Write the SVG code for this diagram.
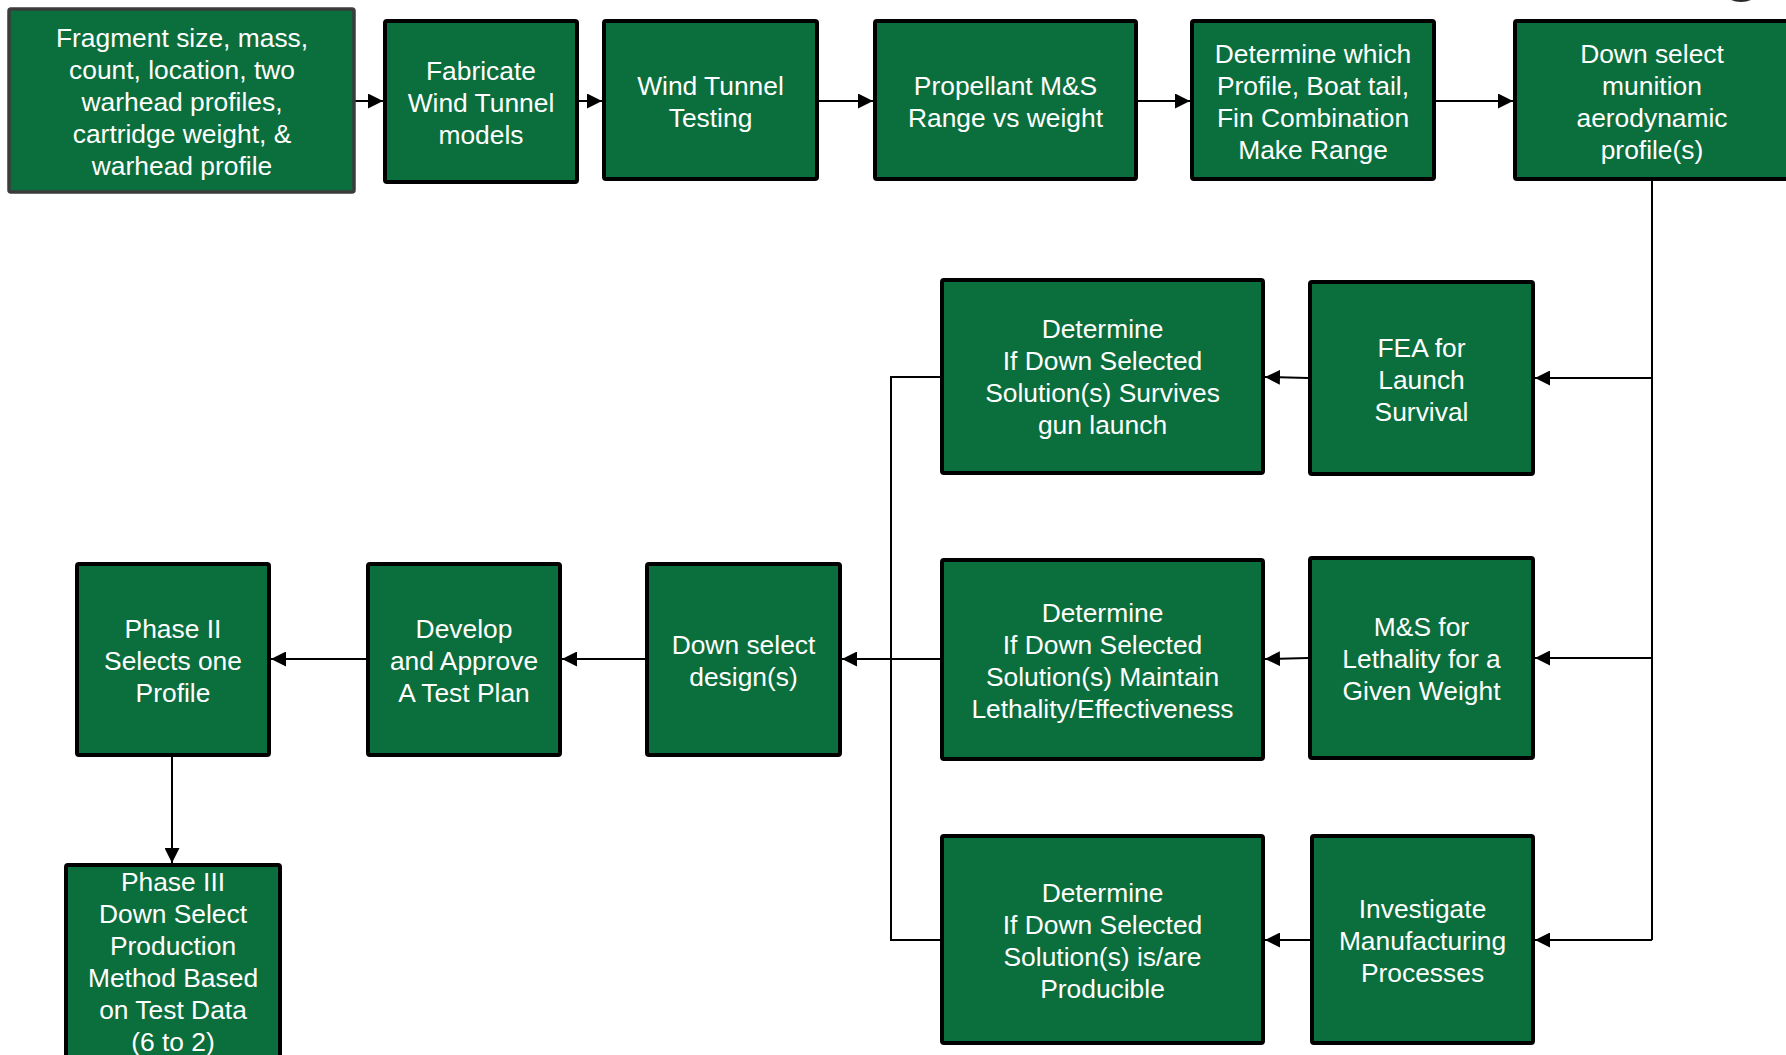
<svg xmlns="http://www.w3.org/2000/svg" width="1786" height="1055" viewBox="0 0 1786 1055">
<defs>
<style>
.box{fill:#0b6e3d;stroke:#000;stroke-width:4}
.box1{fill:#0b6e3d;stroke:#3c3c3c;stroke-width:3.5}
.t{fill:#fff;font-family:"Liberation Sans",Arial,sans-serif;font-size:26.4px;text-anchor:middle}
.c{fill:none;stroke:#000;stroke-width:2}
.a{marker-end:url(#ah)}
</style>
<marker id="ah" markerUnits="userSpaceOnUse" markerWidth="15" markerHeight="15" refX="15" refY="7.5" orient="auto">
<path d="M0,0 L15,7.5 L0,15 z" fill="#000"/>
</marker>
</defs>
<rect width="1786" height="1055" fill="#fff"/>
<ellipse cx="1741" cy="-6" rx="15" ry="8" fill="#2a2a2a"/>
<g id="connectors">
<path class="c a" d="M354,101 H383"/>
<path class="c a" d="M577,101 H602"/>
<path class="c a" d="M817,101 H873"/>
<path class="c a" d="M1136,101 H1190"/>
<path class="c a" d="M1434,101 H1513"/>
<path class="c" d="M1652,179 V940"/>
<path class="c a" d="M1652,378 H1535"/>
<path class="c a" d="M1652,658 H1535"/>
<path class="c a" d="M1652,940 H1535"/>
<path class="c a" d="M1308,378 L1265,377"/>
<path class="c a" d="M1308,658 L1265,659"/>
<path class="c a" d="M1310,940 H1265"/>
<path class="c" d="M940,377 H891 V940 H940"/>
<path class="c a" d="M940,659 H842"/>
<path class="c a" d="M645,659 H562"/>
<path class="c a" d="M366,659 H271"/>
<path class="c a" d="M172,757 V863"/>
</g>
<g id="n1"><rect class="box1" x="9" y="9" width="345" height="183" rx="2"/>
<text class="t"><tspan x="182" y="47">Fragment size, mass,</tspan><tspan x="182" y="79">count, location, two</tspan><tspan x="182" y="111">warhead profiles,</tspan><tspan x="182" y="143">cartridge weight, &amp;</tspan><tspan x="182" y="175">warhead profile</tspan></text></g>
<g id="n2"><rect class="box" x="385" y="21" width="192" height="161" rx="2"/>
<text class="t"><tspan x="481" y="80">Fabricate</tspan><tspan x="481" y="112">Wind Tunnel</tspan><tspan x="481" y="144">models</tspan></text></g>
<g id="n3"><rect class="box" x="604" y="21" width="213" height="158" rx="2"/>
<text class="t"><tspan x="710.5" y="95">Wind Tunnel</tspan><tspan x="710.5" y="127">Testing</tspan></text></g>
<g id="n4"><rect class="box" x="875" y="21" width="261" height="158" rx="2"/>
<text class="t"><tspan x="1005.5" y="95">Propellant M&amp;S</tspan><tspan x="1005.5" y="127">Range vs weight</tspan></text></g>
<g id="n5"><rect class="box" x="1192" y="21" width="242" height="158" rx="2"/>
<text class="t"><tspan x="1313" y="63">Determine which</tspan><tspan x="1313" y="95">Profile, Boat tail,</tspan><tspan x="1313" y="127">Fin Combination</tspan><tspan x="1313" y="159">Make Range</tspan></text></g>
<g id="n6"><rect class="box" x="1515" y="21" width="277" height="158" rx="2"/>
<text class="t"><tspan x="1652" y="63">Down select</tspan><tspan x="1652" y="95">munition</tspan><tspan x="1652" y="127">aerodynamic</tspan><tspan x="1652" y="159">profile(s)</tspan></text></g>
<g id="n7"><rect class="box" x="1310" y="282" width="223" height="192" rx="2"/>
<text class="t"><tspan x="1421.5" y="357">FEA for</tspan><tspan x="1421.5" y="389">Launch</tspan><tspan x="1421.5" y="421">Survival</tspan></text></g>
<g id="n8"><rect class="box" x="942" y="280" width="321" height="193" rx="2"/>
<text class="t"><tspan x="1102.5" y="338">Determine</tspan><tspan x="1102.5" y="370">If Down Selected</tspan><tspan x="1102.5" y="402">Solution(s) Survives</tspan><tspan x="1102.5" y="434">gun launch</tspan></text></g>
<g id="n9"><rect class="box" x="1310" y="558" width="223" height="200" rx="2"/>
<text class="t"><tspan x="1421.5" y="636">M&amp;S for</tspan><tspan x="1421.5" y="668">Lethality for a</tspan><tspan x="1421.5" y="700">Given Weight</tspan></text></g>
<g id="n10"><rect class="box" x="942" y="560" width="321" height="199" rx="2"/>
<text class="t"><tspan x="1102.5" y="622">Determine</tspan><tspan x="1102.5" y="654">If Down Selected</tspan><tspan x="1102.5" y="686">Solution(s) Maintain</tspan><tspan x="1102.5" y="718">Lethality/Effectiveness</tspan></text></g>
<g id="n11"><rect class="box" x="1312" y="836" width="221" height="207" rx="2"/>
<text class="t"><tspan x="1422.5" y="918">Investigate</tspan><tspan x="1422.5" y="950">Manufacturing</tspan><tspan x="1422.5" y="982">Processes</tspan></text></g>
<g id="n12"><rect class="box" x="942" y="836" width="321" height="207" rx="2"/>
<text class="t"><tspan x="1102.5" y="902">Determine</tspan><tspan x="1102.5" y="934">If Down Selected</tspan><tspan x="1102.5" y="966">Solution(s) is/are</tspan><tspan x="1102.5" y="998">Producible</tspan></text></g>
<g id="n13"><rect class="box" x="647" y="564" width="193" height="191" rx="2"/>
<text class="t"><tspan x="743.5" y="654">Down select</tspan><tspan x="743.5" y="686">design(s)</tspan></text></g>
<g id="n14"><rect class="box" x="368" y="564" width="192" height="191" rx="2"/>
<text class="t"><tspan x="464" y="638">Develop</tspan><tspan x="464" y="670">and Approve</tspan><tspan x="464" y="702">A Test Plan</tspan></text></g>
<g id="n15"><rect class="box" x="77" y="564" width="192" height="191" rx="2"/>
<text class="t"><tspan x="173" y="638">Phase II</tspan><tspan x="173" y="670">Selects one</tspan><tspan x="173" y="702">Profile</tspan></text></g>
<g id="n16"><rect class="box" x="66" y="865" width="214" height="200" rx="2"/>
<text class="t"><tspan x="173" y="891">Phase III</tspan><tspan x="173" y="923">Down Select</tspan><tspan x="173" y="955">Production</tspan><tspan x="173" y="987">Method Based</tspan><tspan x="173" y="1019">on Test Data</tspan><tspan x="173" y="1051">(6 to 2)</tspan></text></g>
</svg>
